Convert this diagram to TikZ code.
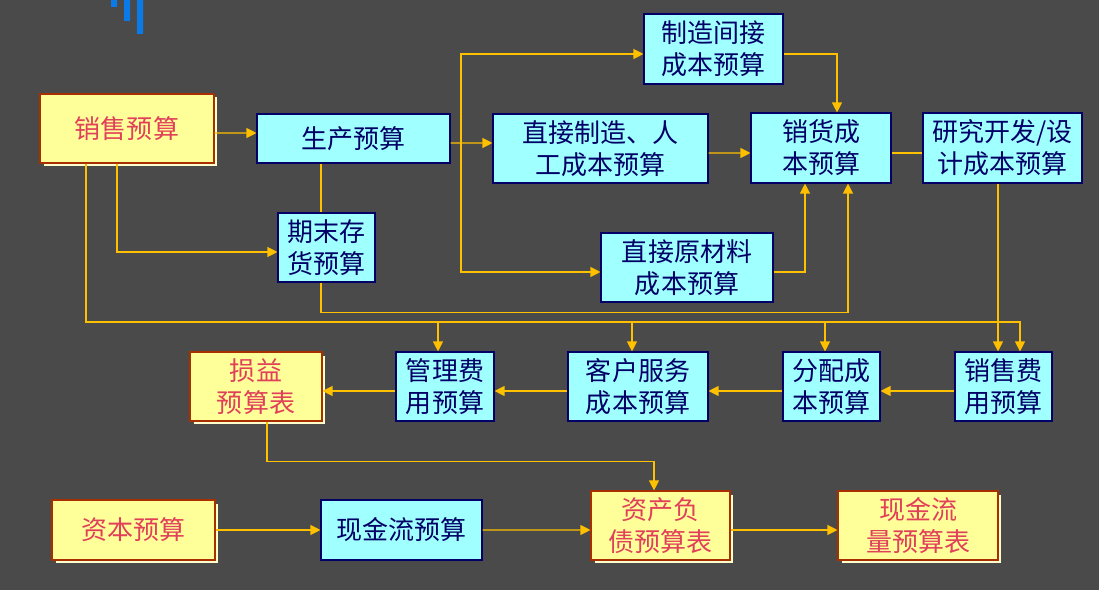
\documentclass[tikz,border=0pt]{standalone}
\usepackage{fontspec}
\newfontfamily\cjk{Noto Sans CJK SC}
\usetikzlibrary{arrows.meta,shadows}
\definecolor{bg}{HTML}{4A4A4A}
\definecolor{barblue}{HTML}{0A7AE8}
\definecolor{cyanfill}{HTML}{A0FFFF}
\definecolor{navy}{HTML}{000066}
\definecolor{lemon}{HTML}{FFFF99}
\definecolor{lemonshadow}{HTML}{FFFFCC}
\definecolor{rust}{HTML}{A83000}
\definecolor{rose}{HTML}{E0405A}
\definecolor{gold}{HTML}{FFC000}
\begin{document}
\begin{tikzpicture}[x=0.02cm, y=-0.02cm]
\tikzstyle{every node}=[inner sep=0pt, align=center, font=\cjk\fontsize{14.8}{18.2}\selectfont]
\tikzstyle{plan}=[draw=navy, fill=cyanfill, text=navy, line width=0.65pt]
\tikzstyle{sheet}=[draw=rust, fill=lemon, text=rose, line width=0.65pt,
  drop shadow={fill=lemonshadow, opacity=1, shadow xshift=0.07cm, shadow yshift=-0.07cm}]
\tikzstyle{flow}=[draw=gold, line width=0.65pt]
\tikzstyle{arr}=[flow, -{Triangle[length=0.2cm, width=0.2cm]}]
\useasboundingbox (0,0) rectangle (1099,590);
\fill[bg] (0,0) rectangle (1099,590);
\fill[barblue] (111,0) rectangle (117,7) (124,0) rectangle (130,21) (137,0) rectangle (143,34);
% budgets
\node[sheet, minimum width=3.48cm, minimum height=1.38cm] (sales) at (127,128.5) {销售预算};
\node[plan, minimum width=3.86cm, minimum height=0.98cm] (prod) at (353.5,138.5) {生产预算};
\node[plan, minimum width=1.94cm, minimum height=1.38cm] (inv) at (326.5,247.5) {期末存\\货预算};
\node[plan, minimum width=2.78cm, minimum height=1.4cm] (ovh) at (713.5,49) {制造间接\\成本预算};
\node[plan, minimum width=4.3cm, minimum height=1.38cm] (labor) at (600.5,148.5) {直接制造、人\\工成本预算};
\node[plan, minimum width=2.8cm, minimum height=1.4cm] (cogs) at (821,148) {销货成\\本预算};
\node[plan, minimum width=3.18cm, minimum height=1.4cm] (rnd) at (1002.5,148) {研究开发/设\\计成本预算};
\node[plan, minimum width=3.44cm, minimum height=1.38cm] (mat) at (687,267.5) {直接原材料\\成本预算};
\node[plan, minimum width=1.94cm, minimum height=1.38cm] (sellexp) at (1003.5,386.5) {销售费\\用预算};
\node[plan, minimum width=1.94cm, minimum height=1.38cm] (alloc) at (831.5,386.5) {分配成\\本预算};
\node[plan, minimum width=2.8cm, minimum height=1.38cm] (cust) at (638,386.5) {客户服务\\成本预算};
\node[plan, minimum width=1.96cm, minimum height=1.38cm] (admin) at (445,386.5) {管理费\\用预算};
\node[sheet, minimum width=2.64cm, minimum height=1.38cm] (pl) at (256,386.5) {损益\\预算表};
\node[sheet, minimum width=3.26cm, minimum height=1.2cm] (capital) at (133.5,530) {资本预算};
\node[plan, minimum width=3.22cm, minimum height=1.2cm] (cash) at (401.5,530) {现金流预算};
\node[sheet, minimum width=2.78cm, minimum height=1.38cm] (bs) at (660.5,525.5) {资产负\\债预算表};
\node[sheet, minimum width=3.2cm, minimum height=1.38cm] (cfs) at (918,525.5) {现金流\\量预算表};
\coordinate (bus) at (86,322);
\coordinate (trunk) at (461,143);
% from sales
\draw[arr] ([shift={(0,4.5)}]sales.east) -- ([shift={(0,-5.5)}]prod.west);
\draw[arr] ([shift={(-10,0)}]sales.south) |- ([shift={(0,4.5)}]inv.west);
\draw[arr] ([shift={(-41,0)}]sales.south) -- (bus) -| ([shift={(16.5,0)}]sellexp.north);
\foreach \n/\dx in {admin/-7, cust/-6, alloc/-6.5}
  \draw[arr] ([shift={(\dx,0)}]\n.north) ++(0,-30) -- ++(0,30);
% from production
\draw[flow] ([shift={(-32.5,0)}]prod.south) -- ([shift={(-5.5,0)}]inv.north);
\draw[arr] ([shift={(-5.5,0)}]inv.south) -- ++(0,30) -| ([shift={(27,0)}]cogs.south);
\draw[arr] ([shift={(0,4.5)}]prod.east) -- ([shift={(0,-5.5)}]labor.west);
\draw[arr] (trunk) |- ([shift={(0,5)}]ovh.west);
\draw[arr] (trunk) |- ([shift={(0,4.5)}]mat.west);
% into cost of goods sold
\draw[arr] ([shift={(0,5)}]ovh.east) -| ([shift={(16,0)}]cogs.north);
\draw[arr] ([shift={(0,4.5)}]labor.east) -- ([shift={(0,5)}]cogs.west);
\draw[arr] ([shift={(0,4.5)}]mat.east) -| ([shift={(-16,0)}]cogs.south);
\draw[flow] ([shift={(0,5)}]cogs.east) -- ([shift={(0,5)}]rnd.west);
\draw[arr] ([shift={(-4.5,0)}]rnd.south) -- ([shift={(-5.5,0)}]sellexp.north);
% expense row
\foreach \a/\b in {sellexp/alloc, alloc/cust, cust/admin, admin/pl}
  \draw[arr] ([shift={(0,4.5)}]\a.west) -- ([shift={(0,4.5)}]\b.east);
\draw[arr] ([shift={(11,0)}]pl.south) -- ++(0,40) -| ([shift={(-6.5,0)}]bs.north);
% bottom row
\draw[arr] (capital.east) -- (cash.west);
\draw[arr] (cash.east) -- ([shift={(0,4.5)}]bs.west);
\draw[arr] ([shift={(0,4.5)}]bs.east) -- ([shift={(0,4.5)}]cfs.west);
\end{tikzpicture}
\end{document}
